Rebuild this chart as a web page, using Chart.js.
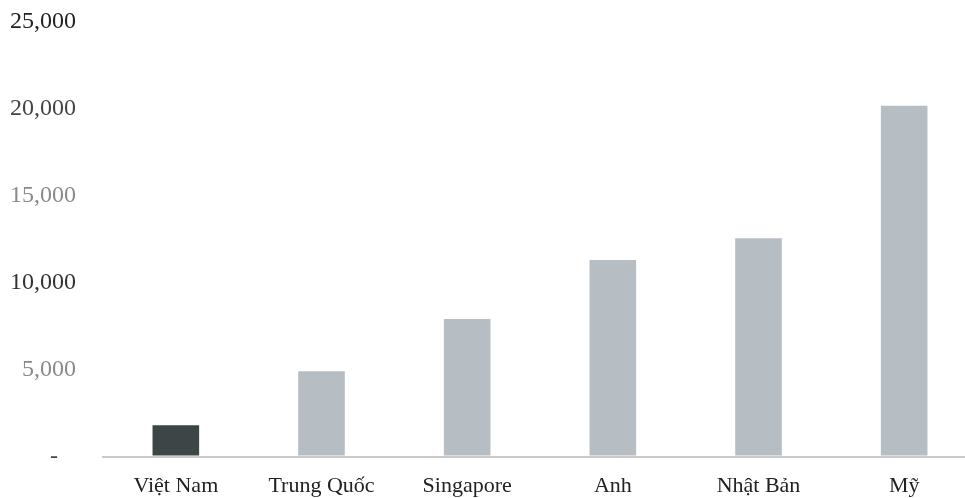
<!DOCTYPE html>
<html>
<head>
<meta charset="utf-8">
<script src="https://cdn.jsdelivr.net/npm/chart.js@4.4.1/dist/chart.umd.min.js"></script>
<style>
  html, body { margin: 0; padding: 0; background: #fff; overflow: hidden; }
  #wrap { width: 980px; height: 522px; margin-top: -20px; }
</style>
</head>
<body>
<div id="wrap"><canvas id="gdpChart" width="980" height="522"></canvas></div>
<script>
// categories and values
var countries = ["Việt Nam", "Trung Quốc", "Singapore", "Anh", "Nhật Bản", "Mỹ"];
var values = [1800, 4900, 7900, 11300, 12550, 20150];
var yTicks = [0, 5000, 10000, 15000, 20000, 25000];

var barColors = countries.map(function (c, i) {
  return i === 0 ? "#3e4547" : "#b6bec4"; // first bar highlighted
});
// scanned labels come out in slightly uneven greys
var tickColors = ["#444", "#8a8a8a", "#333", "#8a8a8a", "#444", "#222"];

var ctx = document.getElementById("gdpChart").getContext("2d");
var gdpChart = new Chart(ctx, {
  type: "bar",
  data: {
    labels: countries,
    datasets: [
      {
        data: values,
        backgroundColor: barColors,
        borderWidth: 0,
        barPercentage: 0.32,
        categoryPercentage: 1,
      },
    ],
  },
  options: {
    responsive: false,
    animation: false,
    layout: { padding: { top: -9, right: 3, bottom: -5, left: 0 } },
    plugins: { legend: { display: false }, tooltip: { enabled: false } },
    scales: {
      x: {
        grid: { display: false },
        border: { display: true, color: "#c9c9c9", width: 2 },
        ticks: {
          color: "#222",
          padding: 8,
          font: { family: "Liberation Serif", size: 22 },
        },
      },
      y: {
        min: 0,
        max: 25000,
        z: 1,
        afterFit: function (scale) {
          scale.width = 103;
        },
        afterBuildTicks: function (scale) {
          scale.ticks = yTicks.map(function (v) {
            return { value: v };
          });
        },
        grid: { color: "rgba(255,255,255,0.7)", drawTicks: false, lineWidth: 2 },
        border: { display: false },
        ticks: {
          padding: 27,
          color: function (c) {
            return tickColors[c.index];
          },
          font: { family: "Liberation Serif", size: 24 },
          callback: function (value) {
            if (value === 0) return "-   ";
            return value.toLocaleString("en-US");
          },
        },
      },
    },
  },
});
</script>
</body>
</html>
